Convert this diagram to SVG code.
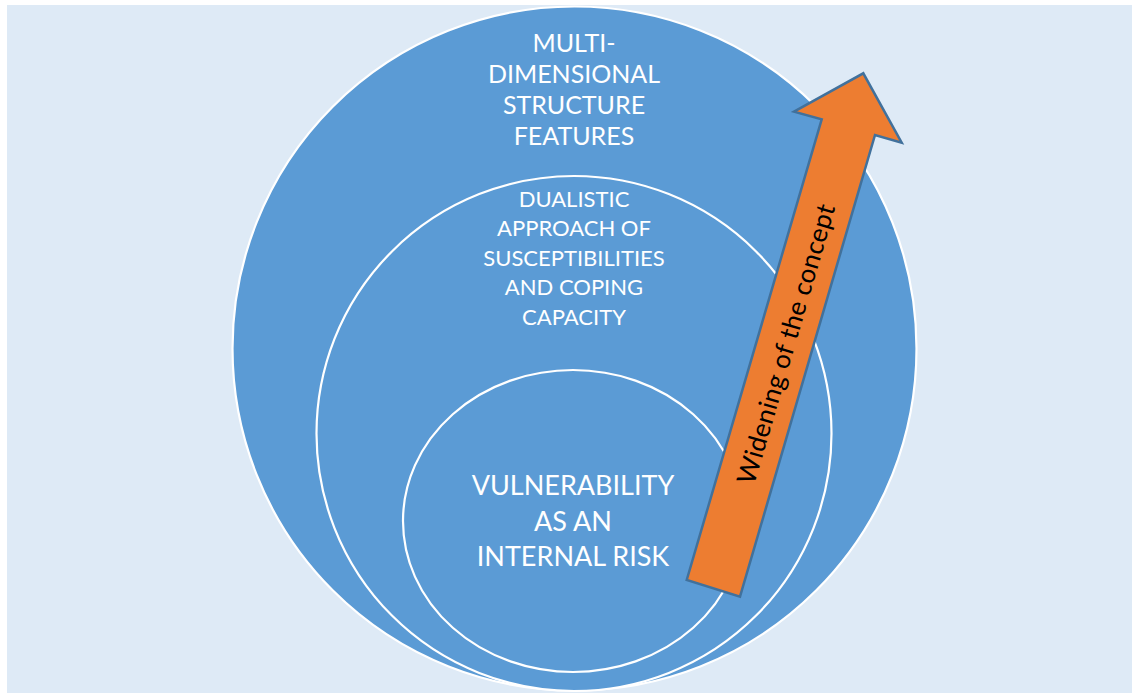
<svg xmlns="http://www.w3.org/2000/svg" width="1132" height="693" viewBox="0 0 1132 693">
<style>
.c{fill:#5B9BD5;stroke:#FFFFFF;stroke-width:2.2}
.t{font-family:Lato,"Open Sans","Liberation Sans",sans-serif;fill:#FFFFFF;text-anchor:middle}
.arr{fill:#ED7D31;stroke:#41719C;stroke-width:2.5;stroke-linejoin:miter}
</style>
<rect x="0" y="0" width="1132" height="693" fill="#FFFFFF"/>
<rect x="7" y="5" width="1125" height="688" fill="#DEEAF6"/>
<g id="outer">
<circle class="c" cx="574.5" cy="348.5" r="342"/>
<text class="t" font-size="25"><tspan x="574" y="52">MULTI-</tspan><tspan x="574" y="83">DIMENSIONAL</tspan><tspan x="574" y="114">STRUCTURE</tspan><tspan x="574" y="145">FEATURES</tspan></text>
</g>
<g id="middle">
<circle class="c" cx="574" cy="433.5" r="257.5"/>
<text class="t" font-size="22"><tspan x="574" y="206.5">DUALISTIC</tspan><tspan x="574" y="236">APPROACH OF</tspan><tspan x="574" y="265.5">SUSCEPTIBILITIES</tspan><tspan x="574" y="295">AND COPING</tspan><tspan x="574" y="324.5">CAPACITY</tspan></text>
</g>
<g id="inner">
<ellipse class="c" cx="573" cy="521" rx="170" ry="151"/>
<text class="t" font-size="27"><tspan x="573" y="495">VULNERABILITY</tspan><tspan x="573" y="531">AS AN</tspan><tspan x="573" y="566">INTERNAL RISK</tspan></text>
</g>
<g id="arrow">
<polygon class="arr" points="686.7,580 821.7,119.3 794,111.7 863.3,73.3 901.7,142.7 875,135 740,596.7"/>
<text transform="translate(786,344) rotate(-73.7)" font-family="Lato,'Open Sans','Liberation Sans',sans-serif" font-size="26" fill="#000000" text-anchor="middle" dy="0.35em" textLength="290">Widening of the concept</text>
</g>
</svg>
